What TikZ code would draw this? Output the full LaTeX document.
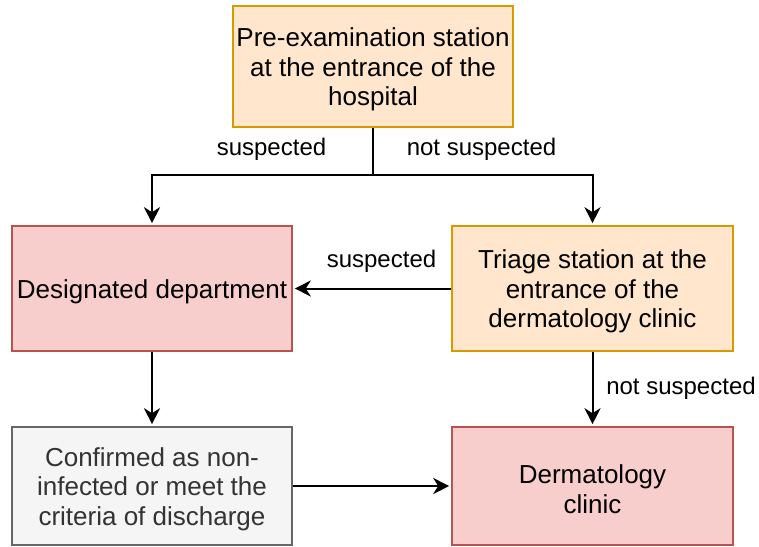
\documentclass[tikz,border=0pt]{standalone}
\usepackage{fontspec}
\setmainfont{Liberation Sans}
\usetikzlibrary{arrows.meta}
\definecolor{orfill}{HTML}{FFE6CC}
\definecolor{ordraw}{HTML}{D79B00}
\definecolor{rdfill}{HTML}{F8CECC}
\definecolor{rddraw}{HTML}{B85450}
\definecolor{gyfill}{HTML}{F5F5F5}
\definecolor{gydraw}{HTML}{666666}
\definecolor{gytext}{HTML}{333333}
\begin{document}
\begin{tikzpicture}[x=1pt,y=-1pt,
  box/.style={draw, line width=1.6pt, inner sep=0pt, minimum width=280pt},
  txt/.style={align=center, inner sep=0pt, yshift=-3pt,
    font=\fontsize{26}{29.5}\selectfont},
  orbox/.style={box, fill=orfill, draw=ordraw},
  rdbox/.style={box, fill=rdfill, draw=rddraw},
  gybox/.style={box, fill=gyfill, draw=gydraw},
  arr/.style={draw, line width=2pt, shorten >=2pt, -{Stealth[length=16pt,width=16pt,inset=5pt]}},
  lbl/.style={font=\fontsize{24}{28}\selectfont, inner sep=0pt}]
\useasboundingbox (0,0) rectangle (759,546);
\node[orbox, minimum height=121pt,
  label={[txt]center:{Pre-examination station\\at the entrance of the\\hospital}}] (pre) at (373,66.5) {};
\node[rdbox, minimum height=125pt,
  label={[txt]center:{Designated department}}] (desig) at (152,288.5) {};
\node[orbox, minimum height=125pt, minimum width=281pt,
  label={[txt]center:{Triage station at the\\entrance of the\\dermatology clinic}}] (triage) at (592.5,288.5) {};
\node[gybox, minimum height=118pt,
  label={[txt, text=gytext]center:{Confirmed as non-\\infected or meet the\\criteria of discharge}}] (conf) at (152,486) {};
\node[rdbox, minimum height=118pt, minimum width=281pt,
  label={[txt]center:{Dermatology\\clinic}}] (derm) at (592.5,486) {};
\coordinate (split) at (373,175);
\draw[line width=2pt] (pre.south) -- (split);
\draw[arr] (split) -| (desig.north);
\draw[arr] (split) -| (triage.north);
\draw[arr] (triage.west) -- (desig.east);
\draw[arr] (desig.south) -- (conf.north);
\draw[arr] (triage.south) -- (derm.north);
\draw[arr] (conf.east) -- (derm.west);
\node[lbl] (l1) at (271.5,149) {suspected};
\node[lbl] (l2) at (481.5,149) {not suspected};
\node[lbl] (l3) at (381.5,261) {suspected};
\node[lbl] (l4) at (681,388) {not suspected};
\end{tikzpicture}
\end{document}
